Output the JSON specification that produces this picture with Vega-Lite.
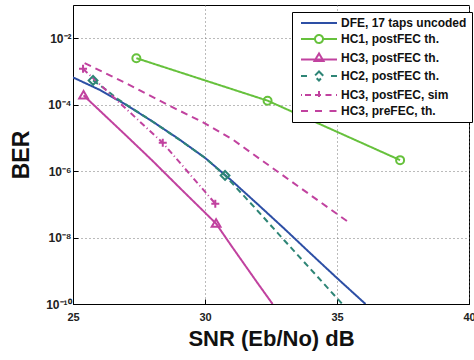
{
  "$schema": "https://vega.github.io/schema/vega-lite/v6.json",
  "width": 396,
  "height": 299,
  "autosize": {"type": "none"},
  "padding": {"left": 73, "top": 5, "right": 5, "bottom": 56},
  "background": "white",
  "config": {
    "font": "Liberation Sans",
    "view": {"stroke": "black", "strokeWidth": 1},
    "axis": {
      "labelFont": "Liberation Sans",
      "labelFontWeight": "bold",
      "labelFontSize": 11,
      "labelColor": "#222",
      "titleFont": "Liberation Sans",
      "titleFontWeight": "bold",
      "titleColor": "#111",
      "domainColor": "black",
      "domainWidth": 1,
      "tickColor": "black",
      "tickSize": -5,
      "gridColor": "#777",
      "gridDash": [1, 3],
      "gridWidth": 1
    }
  },
  "datasets": {
    "lines": [
      {"s": "DFE, 17 taps uncoded", "x": 25.0, "y": 6.61e-4},
      {"s": "DFE, 17 taps uncoded", "x": 26.0, "y": 2.82e-4},
      {"s": "DFE, 17 taps uncoded", "x": 27.0, "y": 1.0e-4},
      {"s": "DFE, 17 taps uncoded", "x": 28.0, "y": 3.16e-5},
      {"s": "DFE, 17 taps uncoded", "x": 29.0, "y": 9.33e-6},
      {"s": "DFE, 17 taps uncoded", "x": 30.0, "y": 2.51e-6},
      {"s": "DFE, 17 taps uncoded", "x": 31.0, "y": 5.25e-7},
      {"s": "DFE, 17 taps uncoded", "x": 32.0, "y": 1.0e-7},
      {"s": "DFE, 17 taps uncoded", "x": 33.0, "y": 1.86e-8},
      {"s": "DFE, 17 taps uncoded", "x": 34.0, "y": 3.31e-9},
      {"s": "DFE, 17 taps uncoded", "x": 35.0, "y": 6.03e-10},
      {"s": "DFE, 17 taps uncoded", "x": 36.08, "y": 1.0e-10},
      {"s": "HC1, postFEC th.", "x": 27.4, "y": 2.51e-3},
      {"s": "HC1, postFEC th.", "x": 32.37, "y": 1.32e-4},
      {"s": "HC1, postFEC th.", "x": 37.39, "y": 2.14e-6},
      {"s": "HC3, postFEC th.", "x": 25.4, "y": 1.905e-4},
      {"s": "HC3, postFEC th.", "x": 26.0, "y": 6.76e-5},
      {"s": "HC3, postFEC th.", "x": 27.0, "y": 1.2e-5},
      {"s": "HC3, postFEC th.", "x": 28.0, "y": 2.09e-6},
      {"s": "HC3, postFEC th.", "x": 29.0, "y": 3.39e-7},
      {"s": "HC3, postFEC th.", "x": 30.0, "y": 5.62e-8},
      {"s": "HC3, postFEC th.", "x": 30.42, "y": 2.63e-8},
      {"s": "HC3, postFEC th.", "x": 31.0, "y": 5.62e-9},
      {"s": "HC3, postFEC th.", "x": 32.0, "y": 4.17e-10},
      {"s": "HC3, postFEC th.", "x": 32.56, "y": 1.0e-10},
      {"s": "HC2, postFEC th.", "x": 25.76, "y": 5.37e-4},
      {"s": "HC2, postFEC th.", "x": 26.2, "y": 3.02e-4},
      {"s": "HC2, postFEC th.", "x": 26.7, "y": 1.48e-4},
      {"s": "HC2, postFEC th.", "x": 27.0, "y": 1.02e-4},
      {"s": "HC2, postFEC th.", "x": 28.0, "y": 3.16e-5},
      {"s": "HC2, postFEC th.", "x": 29.0, "y": 9.12e-6},
      {"s": "HC2, postFEC th.", "x": 30.0, "y": 2.51e-6},
      {"s": "HC2, postFEC th.", "x": 30.76, "y": 7.41e-7},
      {"s": "HC2, postFEC th.", "x": 31.0, "y": 4.57e-7},
      {"s": "HC2, postFEC th.", "x": 32.0, "y": 6.31e-8},
      {"s": "HC2, postFEC th.", "x": 33.0, "y": 8.32e-9},
      {"s": "HC2, postFEC th.", "x": 34.0, "y": 1.12e-9},
      {"s": "HC2, postFEC th.", "x": 35.2, "y": 1.0e-10},
      {"s": "HC3, postFEC, sim", "x": 25.38, "y": 1.2e-3},
      {"s": "HC3, postFEC, sim", "x": 28.4, "y": 7.08e-6},
      {"s": "HC3, postFEC, sim", "x": 30.39, "y": 1.05e-7},
      {"s": "HC3, preFEC, th.", "x": 25.44, "y": 1.78e-3},
      {"s": "HC3, preFEC, th.", "x": 27.0, "y": 4.47e-4},
      {"s": "HC3, preFEC, th.", "x": 28.65, "y": 9.33e-5},
      {"s": "HC3, preFEC, th.", "x": 29.9, "y": 3.02e-5},
      {"s": "HC3, preFEC, th.", "x": 31.05, "y": 8.91e-6},
      {"s": "HC3, preFEC, th.", "x": 32.81, "y": 8.91e-7},
      {"s": "HC3, preFEC, th.", "x": 35.39, "y": 3.09e-8}
    ],
    "markers": [
      {"s": "HC1, postFEC th.", "x": 27.4, "y": 2.51e-3},
      {"s": "HC1, postFEC th.", "x": 32.37, "y": 1.32e-4},
      {"s": "HC1, postFEC th.", "x": 37.39, "y": 2.14e-6},
      {"s": "HC3, postFEC th.", "x": 25.4, "y": 1.905e-4},
      {"s": "HC3, postFEC th.", "x": 30.42, "y": 2.63e-8},
      {"s": "HC2, postFEC th.", "x": 25.76, "y": 5.37e-4},
      {"s": "HC2, postFEC th.", "x": 30.76, "y": 7.41e-7},
      {"s": "HC3, postFEC, sim", "x": 25.38, "y": 1.2e-3},
      {"s": "HC3, postFEC, sim", "x": 28.4, "y": 7.08e-6},
      {"s": "HC3, postFEC, sim", "x": 30.39, "y": 1.05e-7}
    ]
  },
  "layer": [
    {
      "data": {"name": "lines"},
      "mark": {"type": "line", "strokeWidth": 2, "clip": true},
      "encoding": {
        "x": {
          "field": "x", "type": "quantitative",
          "scale": {"domain": [25, 40], "nice": false, "zero": false},
          "axis": {"values": [25, 30, 35, 40], "grid": true, "title": "SNR (Eb/No) dB", "titleFontSize": 22, "titlePadding": 6, "labelPadding": 12, "labelFlush": false}
        },
        "y": {
          "field": "y", "type": "quantitative",
          "scale": {"type": "log", "domain": [1e-10, 0.1], "nice": false},
          "axis": {
            "values": [1e-10, 1e-8, 1e-6, 1e-4, 1e-2],
            "grid": true,
            "title": "BER", "titleFontSize": 23, "titlePadding": 12,
            "labelPadding": 7,
            "labelFontSize": 12,
            "labelExpr": "datum.value < 5e-10 ? '10⁻¹⁰' : datum.value < 5e-8 ? '10⁻⁸' : datum.value < 5e-6 ? '10⁻⁶' : datum.value < 5e-4 ? '10⁻⁴' : '10⁻²'"
          }
        },
        "color": {
          "field": "s", "type": "nominal",
          "scale": {
            "domain": ["DFE, 17 taps uncoded", "HC1, postFEC th.", "HC3, postFEC th.", "HC2, postFEC th.", "HC3, postFEC, sim", "HC3, preFEC, th."],
            "range": ["#2d4fa5", "#66c13c", "#c1429f", "#2e8576", "#c1429f", "#c1429f"]
          },
          "legend": {
            "orient": "none", "legendX": 219, "legendY": 7,
            "title": null,
            "strokeColor": "black", "fillColor": "white",
            "padding": 5, "rowPadding": 2,
            "labelFont": "Liberation Sans", "labelFontWeight": "bold", "labelFontSize": 12, "labelColor": "#111",
            "symbolSize": 100, "symbolOffset": 16, "labelOffset": 16, "symbolStrokeWidth": 2,
            "labelLimit": 300,
            "encode": {
              "symbols": {
                "update": {
                  "shape": {"signal": "['M-3.6,0H3.6', 'M-3.6,0H-0.8M0.8,0H3.6M0.8,0A0.8,0.8 0 1 1 -0.8,0A0.8,0.8 0 1 1 0.8,0Z', 'M-3.6,0.3H3.6M0,-0.9L0.9,0.6L-0.9,0.6Z', 'M-3.6,0H-2.4M2.4,0H3.6M0,-0.9L0.9,0L0,0.9L-0.9,0Z', 'M-3.6,0H-3.4M-2.8,0H-1.3M1.3,0H2.8M3.4,0H3.6M-0.8,0H0.8M0,-0.8V0.8', 'M-3.6,0H-2.1M-0.8,0H0.8M2.1,0H3.6'][datum.index]"},
                  "fill": {"value": "transparent"},
                  "strokeWidth": {"value": 2}
                }
              }
            }
          }
        },
        "strokeDash": {
          "field": "s", "type": "nominal",
          "scale": {
            "domain": ["DFE, 17 taps uncoded", "HC1, postFEC th.", "HC3, postFEC th.", "HC2, postFEC th.", "HC3, postFEC, sim", "HC3, preFEC, th."],
            "range": [[1, 0], [1, 0], [1, 0], [6, 4], [6, 3, 1, 3], [7, 5]]
          },
          "legend": null
        }
      }
    },
    {
      "data": {"name": "markers"},
      "mark": {"type": "point", "filled": false, "strokeWidth": 2, "size": 64, "opacity": 1, "clip": true},
      "encoding": {
        "x": {"field": "x", "type": "quantitative"},
        "y": {"field": "y", "type": "quantitative"},
        "color": {"field": "s", "type": "nominal"},
        "shape": {
          "field": "s", "type": "nominal",
          "scale": {
            "domain": ["HC1, postFEC th.", "HC3, postFEC th.", "HC2, postFEC th.", "HC3, postFEC, sim"],
            "range": ["M1,0A1,1 0 1 1 -1,0A1,1 0 1 1 1,0Z", "M0,-1.1L1.1,0.8L-1.1,0.8Z", "M0,-1.1L1.1,0L0,1.1L-1.1,0Z", "M-1,0H1M0,-1V1"]
          },
          "legend": null
        }
      }
    }
  ]
}
